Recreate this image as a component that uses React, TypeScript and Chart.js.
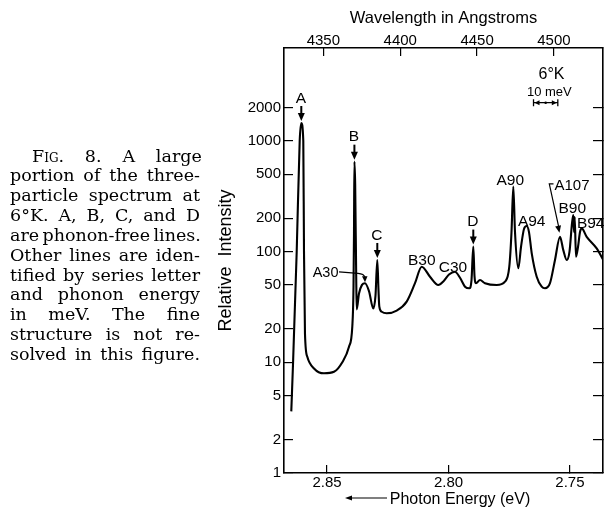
import React, { useEffect, useRef } from 'react';
import { Chart, registerables } from 'chart.js';

Chart.register(...registerables);

// ---- traced spectrum (photon energy in eV, relative intensity) ----
const photonEnergy = [
  2.8647, 2.8640, 2.86247, 2.86124, 2.86058, 2.85976, 2.85947, 2.85906, 2.85811,
  2.85535, 2.85124, 2.84712, 2.8437, 2.84095, 2.83959, 2.83909, 2.83889, 2.83872,
  2.8384, 2.83798, 2.83778, 2.83683, 2.8356, 2.83436, 2.83272, 2.83095, 2.83004,
  2.8293, 2.82881, 2.82848, 2.82749, 2.82543, 2.82131, 2.8172, 2.81378, 2.81102,
  2.80761, 2.80419, 2.80213, 2.79979, 2.79732, 2.79526, 2.7932, 2.79143, 2.79053,
  2.78979, 2.78929, 2.78868, 2.78703, 2.78497, 2.78016, 2.77674, 2.77497, 2.77406,
  2.77332, 2.77262, 2.77126, 2.77015, 2.76892, 2.76781, 2.76686, 2.76575, 2.76369,
  2.76163, 2.76028, 2.75822, 2.75616, 2.7541, 2.75274, 2.75134, 2.75019, 2.74916,
  2.74863, 2.7483, 2.74805, 2.74752, 2.74669, 2.74587, 2.74517, 2.74311, 2.739,
  2.73628,
];
const relativeIntensity = [
  3.6, 9.5, 100, 1000, 1450, 1000, 100, 18, 11.2,
  8.8, 7.95, 8.2, 10, 13.8, 21, 48, 147, 649,
  400, 60, 30, 41.8, 50, 51.8, 44, 30.6, 40,
  84, 45, 32, 28.6, 27.7, 29.3, 35.3, 51.8, 73,
  59.3, 49.9, 53.6, 62, 65.7, 58, 48.2, 46.6, 55,
  111, 60, 51.8, 55.4, 51.8, 49.9, 53.6, 73, 150,
  386, 150, 70.7, 110, 160, 170, 150, 97, 59.3,
  48.2, 46.6, 51.8, 84, 136, 103, 84, 100, 180,
  214, 150, 205, 90, 110, 150, 162, 136, 107,
  84,
];

// ---- axes ----
const intensityTicks = [1, 2, 5, 10, 20, 50, 100, 200, 500, 1000, 2000];
const energyTicks = [2.85, 2.8, 2.75];
const wavelengthTicks = [4350, 4400, 4450, 4500];
const energyRange = [2.7364, 2.8677];
const wavelengthRange = [4324.4, 4531.9];
const intensityRange = [1, 6900];

// ---- line labels ----
const phononFreeLines = [
  { label: 'A', energy: 2.86058, value: 1450 },
  { label: 'B', energy: 2.83872, value: 649 },
  { label: 'C', energy: 2.8293, value: 84 },
  { label: 'D', energy: 2.78979, value: 111 },
];
const seriesLabels = [
  { label: 'B30', energy: 2.81102, value: 73, dx: 0, dy: -7 },
  { label: 'C30', energy: 2.79732, value: 65.7, dx: -2, dy: -5 },
  { label: 'A90', energy: 2.77332, value: 386, dx: -3, dy: -7 },
  { label: 'A94', energy: 2.76781, value: 170, dx: 5, dy: -6 },
  { label: 'B90', energy: 2.74863, value: 214, dx: -1, dy: -8 },
  { label: 'B94', energy: 2.74517, value: 162, dx: 9, dy: -6 },
];
const pointerLabels = [
  { label: 'A30', energy: 2.8506, value: 65.7, toEnergy: 2.83436, toValue: 51.8 },
  { label: 'A107', energy: 2.74916, value: 400, toEnergy: 2.7541, toValue: 136 },
];
const temperatureLabel = { text: '6\u00b0K', energy: 2.7576, value: 4082 };
const resolutionLabel = { text: '10 meV', energy: 2.7585, value: 2783 };
const resolutionBar = { from: 2.765, to: 2.755, value: 2213 };

const captionLines = [
  'Fig. 8. A large',
  'portion of the three-',
  'particle spectrum at',
  '6\u00b0K. A, B, C, and D',
  'are phonon-free lines.',
  'Other lines are iden-',
  'tified by series letter',
  'and phonon energy',
  'in meV. The fine',
  'structure is not re-',
  'solved in this figure.',
];

const SANS = '"Liberation Sans", Arial, sans-serif';
const SERIF_SIZE = 17.5;
const SERIF = '"DejaVu Serif", serif';

function wordSpacingFor(text: string, width: number, firstLine: boolean): number {
  const c = document.createElement('canvas').getContext('2d');
  if (!c) return 0;
  let natural = 0;
  if (firstLine) {
    c.font = `${SERIF_SIZE}px ${SERIF}`;
    natural += c.measureText('F').width;
    c.font = `${SERIF_SIZE * 0.7}px ${SERIF}`;
    natural += c.measureText('IG.').width;
    c.font = `${SERIF_SIZE}px ${SERIF}`;
    natural += c.measureText(text.slice(4)).width;
  } else {
    c.font = `${SERIF_SIZE}px ${SERIF}`;
    natural = c.measureText(text).width;
  }
  const spaces = (text.match(/ /g) || []).length;
  return spaces ? Math.max(-2.2, (width - natural) / spaces) : 0;
}

function arrowDown(ctx: CanvasRenderingContext2D, x: number, tail: number, tip: number) {
  ctx.lineWidth = 2;
  ctx.beginPath();
  ctx.moveTo(x, tail);
  ctx.lineTo(x, tip - 6);
  ctx.stroke();
  ctx.beginPath();
  ctx.moveTo(x - 3.5, tip - 8);
  ctx.lineTo(x + 3.5, tip - 8);
  ctx.lineTo(x, tip);
  ctx.closePath();
  ctx.fill();
}

function textAt(ctx: CanvasRenderingContext2D, text: string, x: number, yCenter: number, size: number) {
  ctx.font = `${size}px ${SANS}`;
  ctx.textAlign = 'center';
  ctx.textBaseline = 'alphabetic';
  ctx.fillText(text, x, yCenter + size * 0.358);
}

const annotationPlugin = {
  id: 'spectrumAnnotations',
  afterDraw(chart: any) {
    const { ctx, chartArea } = chart;
    const xs = chart.scales.x;
    const ys = chart.scales.y;
    const px = (e: number) => xs.getPixelForValue(e);
    const py = (v: number) => ys.getPixelForValue(v);
    ctx.save();
    ctx.fillStyle = '#000';
    ctx.strokeStyle = '#000';

    for (const m of phononFreeLines) {
      const x = px(m.energy);
      const tip = py(m.value) - 2;
      const tail = tip - 15;
      arrowDown(ctx, x, tail, tip);
      textAt(ctx, m.label, x - 0.5, tail - 9, 15.5);
    }

    for (const s of seriesLabels) {
      textAt(ctx, s.label, px(s.energy) + s.dx, py(s.value) + s.dy, 15.5);
    }

    // A30 pointer
    {
      const p = pointerLabels[0];
      const lx = px(p.energy);
      const ly = py(p.value);
      textAt(ctx, p.label, lx, ly, 14.5);
      const tx = px(p.toEnergy);
      const ty = py(p.toValue) - 1;
      ctx.lineWidth = 1.2;
      ctx.beginPath();
      ctx.moveTo(lx + 13.5, ly);
      ctx.lineTo(tx - 7, ly + 1.5);
      ctx.quadraticCurveTo(tx - 1, ly + 2, tx, ty - 5);
      ctx.stroke();
      ctx.beginPath();
      ctx.moveTo(tx - 3, ty - 6);
      ctx.lineTo(tx + 2.5, ty - 6);
      ctx.lineTo(tx, ty);
      ctx.closePath();
      ctx.fill();
    }
    // A107 pointer
    {
      const p = pointerLabels[1];
      const lx = px(p.energy);
      const ly = py(p.value);
      textAt(ctx, p.label, lx, ly, 15);
      const tx = px(p.toEnergy) - 0.5;
      const ty = py(p.toValue) - 4;
      const sx = lx - 22.7;
      ctx.lineWidth = 1.2;
      ctx.beginPath();
      ctx.moveTo(lx - 18.5, ly - 1);
      ctx.lineTo(sx, ly - 1);
      ctx.lineTo(tx - 0.8, ty - 6);
      ctx.stroke();
      const ang = Math.atan2(ty - (ly - 1), tx - sx);
      const hl = 7;
      ctx.beginPath();
      ctx.moveTo(tx, ty);
      ctx.lineTo(tx - hl * Math.cos(ang) + 3 * Math.sin(ang), ty - hl * Math.sin(ang) - 3 * Math.cos(ang));
      ctx.lineTo(tx - hl * Math.cos(ang) - 3 * Math.sin(ang), ty - hl * Math.sin(ang) + 3 * Math.cos(ang));
      ctx.closePath();
      ctx.fill();
    }

    // temperature and resolution
    textAt(ctx, temperatureLabel.text, px(temperatureLabel.energy), py(temperatureLabel.value), 16);
    textAt(ctx, resolutionLabel.text, px(resolutionLabel.energy), py(resolutionLabel.value), 13);
    {
      const x1 = px(resolutionBar.from);
      const x2 = px(resolutionBar.to);
      const yb = py(resolutionBar.value);
      ctx.lineWidth = 1.3;
      ctx.beginPath();
      ctx.moveTo(x1, yb - 3.5); ctx.lineTo(x1, yb + 3.5);
      ctx.moveTo(x2, yb - 3.5); ctx.lineTo(x2, yb + 3.5);
      ctx.moveTo(x1, yb); ctx.lineTo(x2, yb);
      ctx.stroke();
      const mid = (x1 + x2) / 2;
      ctx.beginPath();
      ctx.moveTo(x1 + 6, yb - 2.5); ctx.lineTo(x1 + 1, yb); ctx.lineTo(x1 + 6, yb + 2.5); ctx.closePath();
      ctx.moveTo(x2 - 6, yb - 2.5); ctx.lineTo(x2 - 1, yb); ctx.lineTo(x2 - 6, yb + 2.5); ctx.closePath();
      ctx.fill();
      ctx.beginPath();
      ctx.arc(mid, yb, 1.3, 0, Math.PI * 2);
      ctx.fill();
    }

    // bottom axis title with arrow
    {
      const y = chartArea.bottom + 25;
      textAt(ctx, 'Photon Energy (eV)', chartArea.left + 176, y, 16);
      ctx.lineWidth = 1.2;
      ctx.beginPath();
      ctx.moveTo(chartArea.left + 64, y);
      ctx.lineTo(chartArea.left + 103, y);
      ctx.stroke();
      ctx.beginPath();
      ctx.moveTo(chartArea.left + 61, y);
      ctx.lineTo(chartArea.left + 68, y - 2.5);
      ctx.lineTo(chartArea.left + 68, y + 2.5);
      ctx.closePath();
      ctx.fill();
    }
    ctx.restore();
  },
};

const tickFont = { family: SANS, size: 15 };
const gridStyle = (len: number) => ({
  drawOnChartArea: false,
  drawTicks: true,
  tickLength: len,
  color: '#000',
  lineWidth: 1.2,
});
const borderStyle = { display: true, color: '#000', width: 1.6 };

export default function App() {
  const canvasRef = useRef<HTMLCanvasElement | null>(null);

  useEffect(() => {
    const canvas = canvasRef.current;
    if (!canvas) return;
    const points = photonEnergy.map((e, i) => ({ x: e, y: relativeIntensity[i] }));
    const chart = new Chart(canvas, {
      type: 'line',
      data: {
        datasets: [
          {
            data: points,
            xAxisID: 'x',
            yAxisID: 'y',
            borderColor: '#000',
            borderWidth: 2.1,
            pointRadius: 0,
            fill: false,
            cubicInterpolationMode: 'monotone',
          },
        ],
      },
      options: {
        responsive: false,
        animation: false,
        events: [],
        layout: { padding: 0 },
        plugins: { legend: { display: false }, tooltip: { enabled: false } },
        scales: {
          x: {
            type: 'linear',
            position: 'bottom',
            reverse: true,
            min: energyRange[0],
            max: energyRange[1],
            afterBuildTicks: (s: any) => { s.ticks = energyTicks.map((v) => ({ value: v })); },
            afterFit: (s: any) => { s.height = 35; },
            ticks: {
              callback: (v: any) => Number(v).toFixed(2),
              font: tickFont,
              color: '#000',
              padding: 9,
              maxRotation: 0,
              autoSkip: false,
            },
            grid: gridStyle(-8),
            border: borderStyle,
          },
          x2: {
            type: 'linear',
            position: 'top',
            min: wavelengthRange[0],
            max: wavelengthRange[1],
            afterBuildTicks: (s: any) => { s.ticks = wavelengthTicks.map((v) => ({ value: v })); },
            afterFit: (s: any) => { s.height = 48; },
            ticks: {
              callback: (v: any) => String(v),
              font: tickFont,
              color: '#000',
              padding: 6,
              maxRotation: 0,
              autoSkip: false,
            },
            grid: gridStyle(-8),
            border: borderStyle,
            title: {
              display: true,
              text: 'Wavelength in Angstroms',
              font: { family: SANS, size: 16.5 },
              color: '#000',
              padding: { top: 9, bottom: 0 },
            },
          },
          y: {
            type: 'logarithmic',
            position: 'left',
            min: intensityRange[0],
            max: intensityRange[1],
            afterBuildTicks: (s: any) => { s.ticks = intensityTicks.map((v) => ({ value: v })); },
            afterFit: (s: any) => { s.width = 284; },
            ticks: {
              callback: (v: any) => String(v),
              font: tickFont,
              color: '#000',
              padding: 12,
              autoSkip: false,
            },
            grid: gridStyle(-9),
            border: borderStyle,
            title: {
              display: true,
              text: 'Relative  Intensity',
              font: { family: SANS, size: 18 },
              color: '#000',
              padding: { top: 215, bottom: 0 },
            },
          },
          y2: {
            type: 'logarithmic',
            position: 'right',
            min: intensityRange[0],
            max: intensityRange[1],
            afterBuildTicks: (s: any) => { s.ticks = intensityTicks.map((v) => ({ value: v })); },
            afterFit: (s: any) => { s.width = 2; },
            ticks: { display: false },
            grid: gridStyle(-10),
            border: borderStyle,
          },
        },
      },
      plugins: [annotationPlugin],
    } as any);
    return () => chart.destroy();
  }, []);

  return (
    <div style={{ position: 'fixed', left: 0, top: 0, width: 605, height: 508, background: '#fff', overflow: 'hidden' }}>
      <canvas ref={canvasRef} width={605} height={508} style={{ position: 'absolute', left: 0, top: 0, width: 605, height: 508 }} />
      {captionLines.map((line, i) => {
        const left = i === 0 ? 32 : 10;
        const width = 200 - left;
        const ws = wordSpacingFor(line, width, i === 0);
        return (
          <div
            key={i}
            style={{
              position: 'absolute',
              left,
              top: 157 + 19.85 * i - 11.5,
              whiteSpace: 'nowrap',
              fontFamily: SERIF,
              fontSize: SERIF_SIZE,
              lineHeight: '20px',
              wordSpacing: ws,
              color: '#000',
            }}
          >
            {i === 0 ? (
              <>
                <span style={{ fontVariant: 'small-caps' }}>Fig.</span>
                {line.slice(4)}
              </>
            ) : (
              line
            )}
          </div>
        );
      })}
    </div>
  );
}
